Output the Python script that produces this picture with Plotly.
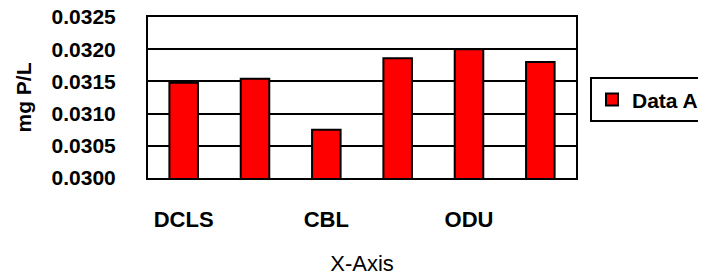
import plotly.graph_objects as go

values = [0.03148, 0.03154, 0.03075, 0.03186, 0.03200, 0.03180]
tick_labels = ["DCLS", "CBL", "ODU"]
tick_positions = [1, 3, 5]
y_ticks = [0.0300, 0.0305, 0.0310, 0.0315, 0.0320, 0.0325]
series_name = "Data A"

x_pos = list(range(1, len(values) + 1))

FONT = "Liberation Sans, Arial, sans-serif"

fig = go.Figure()
fig.add_trace(go.Bar(
    x=x_pos, y=values, name=series_name,
    marker=dict(color="#FF0000", line=dict(color="black", width=2)),
    width=0.4,
    showlegend=True,
))

# page body adds ~8px offset; figure sized to fit remaining window
fig.update_layout(
    width=698, height=269,
    margin=dict(l=140, r=130, t=9, b=99, autoexpand=False),
    paper_bgcolor="white", plot_bgcolor="white",
    font=dict(family=FONT, color="black"),
    showlegend=True,
    legend=dict(
        x=1.0327, y=0.625, xanchor="left", yanchor="top",
        bordercolor="black", borderwidth=2,
        font=dict(family=FONT, size=21, weight="bold", color="black"),
        bgcolor="white",
    ),
)

fig.update_xaxes(
    range=[0.5, 6.5],
    tickmode="array", tickvals=tick_positions, ticktext=tick_labels,
    tickfont=dict(family=FONT, size=22, weight="bold", color="black"),
    ticks="", ticklabelstandoff=21, ticklabeloverflow="allow",
    showline=True, linecolor="black", linewidth=2, mirror=True,
    showgrid=False, zeroline=False,
    title=dict(text="X-Axis", font=dict(family=FONT, size=22, color="black"), standoff=24),
)

fig.update_yaxes(
    range=[0.0300, 0.0325],
    tickmode="array", tickvals=y_ticks,
    ticktext=[f"{v:.4f}" for v in y_ticks],
    tickfont=dict(family=FONT, size=21, weight="bold", color="black"),
    ticks="", ticklabelstandoff=26, ticklabeloverflow="allow",
    showline=True, linecolor="black", linewidth=2, mirror=True,
    showgrid=True, gridcolor="black", gridwidth=2,
    zeroline=False,
    title=dict(text="mg P/L", font=dict(family=FONT, size=21, weight="bold", color="black"), standoff=14),
)

fig.write_html("out.html")
